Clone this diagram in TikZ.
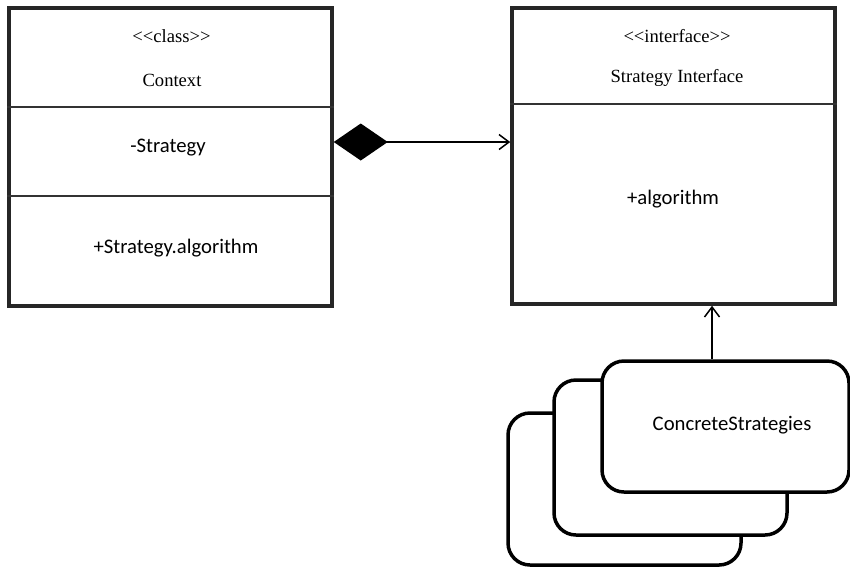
\documentclass[tikz,border=0pt]{standalone}
\usepackage{fontspec}
\newfontfamily\tnr{Liberation Serif}
\newfontfamily\carl{Carlito}
\usetikzlibrary{arrows.meta}
\begin{document}
\begin{tikzpicture}[x=1pt,y=-1pt,
  umlbox/.style={draw=black!85, line width=3.5pt, fill=white, inner sep=0pt},
  divider/.style={draw=black!80, line width=1.4pt},
  conn/.style={draw=black, line width=1.5pt},
  stackbox/.style={draw=black, line width=3.5pt, fill=white, rounded corners=22pt, inner sep=0pt},
  serif/.style={font=\tnr\fontsize{18.6}{22}\selectfont, anchor=base, inner sep=0pt},
  sans/.style={font=\carl\fontsize{20.7}{24}\selectfont, anchor=base, inner sep=0pt}]
\useasboundingbox (0,0) rectangle (850,566);

% Context class
\node[umlbox, minimum width=323pt, minimum height=298pt] (ctx) at (170.5,157) {};
\coordinate (c1) at (0,107);
\coordinate (c2) at (0,196);
\draw[divider] (ctx.west |- c1) -- (ctx.east |- c1);
\draw[divider] (ctx.west |- c2) -- (ctx.east |- c2);
\node[serif] (ctxst) at (171.5,42) {<<class>>};
\node[serif] (ctxname) at (172,86) {Context};
\node[sans] (ctxattr) at (168,152) {-Strategy};
\node[sans] (ctxop) at (176,253) {+Strategy.algorithm};

% Strategy interface
\node[umlbox, minimum width=323pt, minimum height=296pt] (iface) at (673.5,156) {};
\coordinate (i1) at (0,104);
\draw[divider] (iface.west |- i1) -- (iface.east |- i1);
\node[serif] (ifst) at (677,42) {<<interface>>};
\node[serif] (ifname) at (677,82) {Strategy Interface};
\node[sans] (ifop) at (673,204) {+algorithm};

% Aggregation connector
\coordinate (agg) at (0,142);
\draw[conn, {Diamond[length=54pt,width=37pt,fill=black]}-{Straight Barb[length=10pt,width=15pt,line width=1.5pt]}]
  (ctx.east |- agg) -- (iface.west |- agg);

% Concrete strategies stack
\node[stackbox, minimum width=233pt, minimum height=152pt] (back) at (624.5,489) {};
\node[stackbox, minimum width=233pt, minimum height=155pt] (mid) at (670.5,457.5) {};
\node[stackbox, minimum width=247pt, minimum height=131pt] (front) at (725.5,426.5) {};
\node[sans] (cslabel) at (732,430) {ConcreteStrategies};

% Realization arrow
\coordinate (up) at (712,0);
\draw[conn, -{Straight Barb[length=10pt,width=15pt,line width=1.5pt]}]
  (front.north -| up) -- (iface.south -| up);
\end{tikzpicture}
\end{document}
